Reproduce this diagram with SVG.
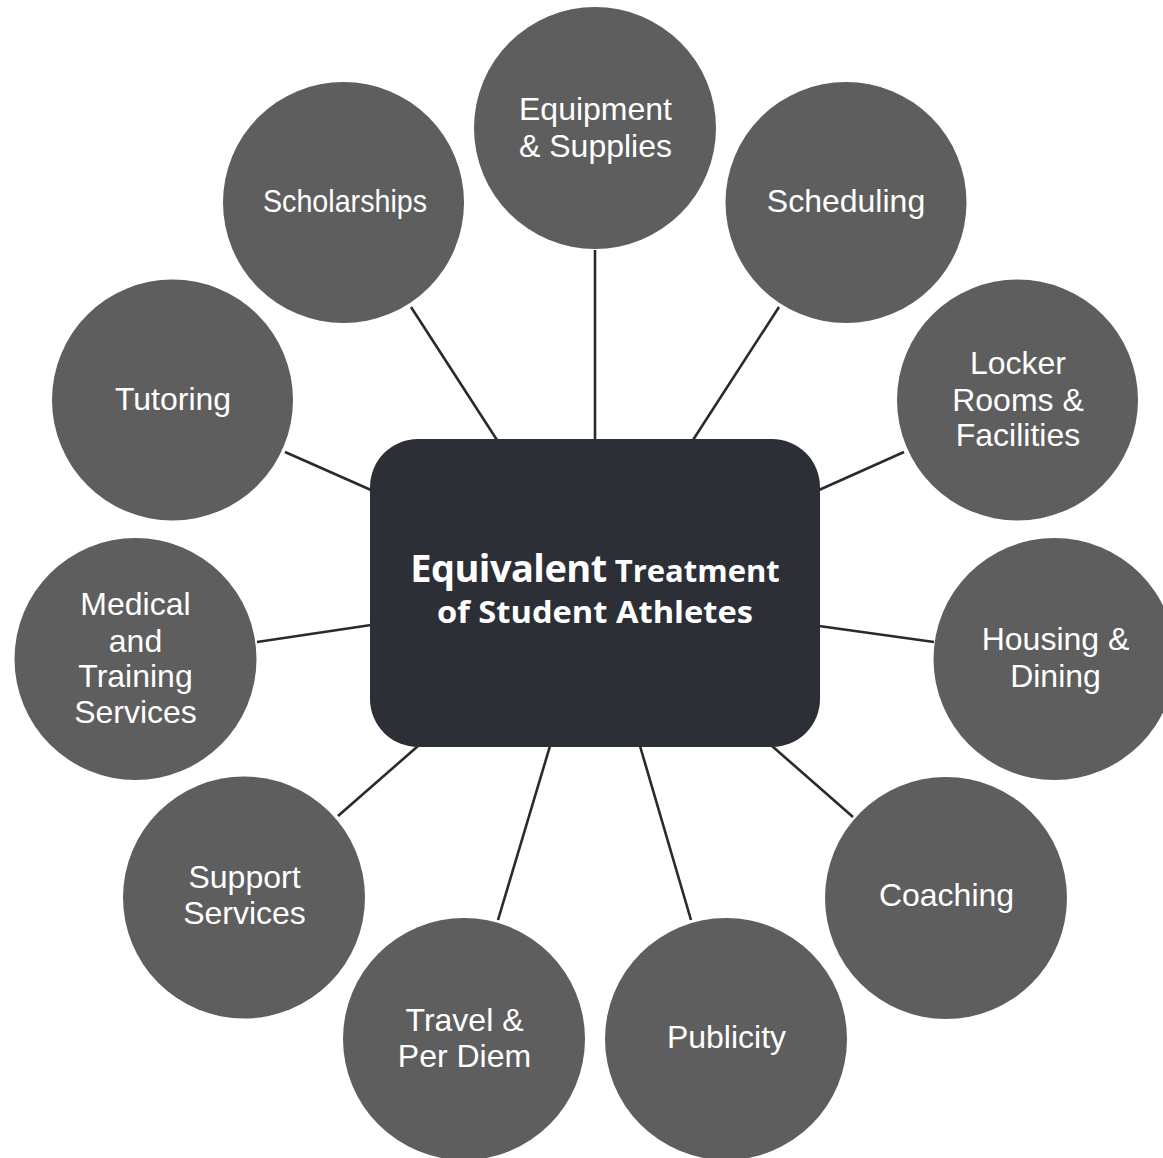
<svg xmlns="http://www.w3.org/2000/svg" width="1163" height="1158" viewBox="0 0 1163 1158">
<style>
.c{fill:#5e5e5e}
.t{font-family:"Liberation Sans",Arial,sans-serif;font-size:32px;fill:#ffffff;text-anchor:middle}
.ln{stroke:#262a31;stroke-width:2.6;fill:none}
.hub{fill:#2c2f36}
.ht{font-family:"Open Sans","Noto Sans",sans-serif;font-weight:bold;fill:#ffffff}
</style>
<rect width="1163" height="1158" fill="#ffffff"/>
<g id="connectors">
<line class="ln" x1="595" y1="250" x2="595" y2="440"/>
<line class="ln" x1="411" y1="307" x2="497" y2="440"/>
<line class="ln" x1="779" y1="307" x2="693" y2="440"/>
<line class="ln" x1="285" y1="452" x2="371" y2="490"/>
<line class="ln" x1="904" y1="452" x2="819" y2="490"/>
<line class="ln" x1="257" y1="642" x2="371" y2="625"/>
<line class="ln" x1="819" y1="626" x2="934" y2="642"/>
<line class="ln" x1="338" y1="816" x2="418" y2="746"/>
<line class="ln" x1="498" y1="920" x2="550" y2="746"/>
<line class="ln" x1="640" y1="746" x2="691" y2="920"/>
<line class="ln" x1="772" y1="746" x2="853" y2="817"/>
</g>
<g id="hub">
<rect class="hub" x="370" y="439" width="450" height="308" rx="48" ry="48"/>
<text class="ht" x="595" y="582" text-anchor="middle"><tspan font-size="38" textLength="197">Equivalent</tspan><tspan font-size="31"> Treatment</tspan></text>
<text class="ht" x="595" y="623" text-anchor="middle" font-size="31" textLength="316" lengthAdjust="spacingAndGlyphs">of Student Athletes</text>
</g>
<g id="equipment">
<circle class="c" cx="595" cy="128" r="121"/>
<text class="t" x="595.5" y="120">Equipment</text>
<text class="t" x="595.5" y="157">&amp; Supplies</text>
</g>
<g id="scholarships">
<circle class="c" cx="343.5" cy="202.5" r="120.5"/>
<text class="t" x="345" y="212" textLength="164" lengthAdjust="spacingAndGlyphs">Scholarships</text>
</g>
<g id="scheduling">
<circle class="c" cx="846" cy="202.5" r="120.5"/>
<text class="t" x="846" y="212">Scheduling</text>
</g>
<g id="tutoring">
<circle class="c" cx="172.5" cy="400" r="120.5"/>
<text class="t" x="173" y="410">Tutoring</text>
</g>
<g id="locker">
<circle class="c" cx="1017.5" cy="400" r="120.5"/>
<text class="t" x="1018" y="374">Locker</text>
<text class="t" x="1018" y="411">Rooms &amp;</text>
<text class="t" x="1018" y="446">Facilities</text>
</g>
<g id="medical">
<circle class="c" cx="135.5" cy="659" r="121"/>
<text class="t" x="135.5" y="615">Medical</text>
<text class="t" x="135.5" y="652">and</text>
<text class="t" x="135.5" y="687">Training</text>
<text class="t" x="135.5" y="723">Services</text>
</g>
<g id="housing">
<circle class="c" cx="1054.5" cy="659" r="121"/>
<text class="t" x="1055.5" y="650">Housing &amp;</text>
<text class="t" x="1055.5" y="687">Dining</text>
</g>
<g id="support">
<circle class="c" cx="244" cy="897.5" r="121"/>
<text class="t" x="244.5" y="888">Support</text>
<text class="t" x="244.5" y="924">Services</text>
</g>
<g id="coaching">
<circle class="c" cx="946" cy="898" r="121"/>
<text class="t" x="946.5" y="906">Coaching</text>
</g>
<g id="travel">
<circle class="c" cx="464" cy="1039" r="121"/>
<text class="t" x="464.5" y="1031">Travel &amp;</text>
<text class="t" x="464.5" y="1067">Per Diem</text>
</g>
<g id="publicity">
<circle class="c" cx="726" cy="1039" r="121"/>
<text class="t" x="726.5" y="1048">Publicity</text>
</g>
</svg>
